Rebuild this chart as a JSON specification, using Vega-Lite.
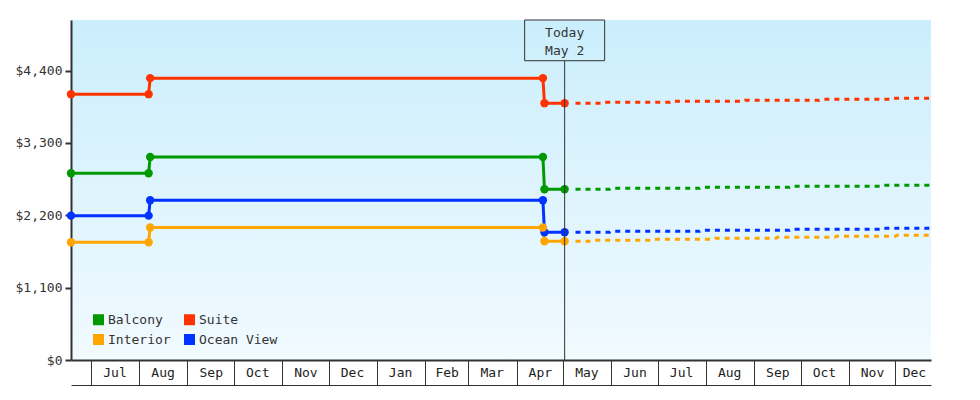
{
  "$schema": "https://vega.github.io/schema/vega-lite/v6.json",
  "width": 860,
  "height": 340,
  "autosize": {"type": "none"},
  "padding": {"left": 71, "top": 20, "right": 49, "bottom": 40},
  "background": "white",
  "config": {
    "font": "DejaVu Sans Mono",
    "scale": {"continuousPadding": 0},
    "view": {
      "stroke": null,
      "fill": {
        "gradient": "linear", "x1": 0, "y1": 0, "x2": 0, "y2": 1,
        "stops": [{"offset": 0, "color": "#cbeefc"}, {"offset": 1, "color": "#f1faff"}]
      }
    },
    "axisY": {
      "title": null, "grid": false, "domainColor": "#333", "domainWidth": 2, "tickColor": "#333", "tickWidth": 2, "tickSize": 6,
      "labelPadding": 3, "labelFont": "DejaVu Sans Mono", "labelFontSize": 13, "labelColor": "#333"
    },
    "legend": {
      "labelFont": "DejaVu Sans Mono", "labelFontSize": 13, "labelColor": "#333"
    }
  },
  "data": {
    "values": [
      {"date": "2016-06-18", "room": "Suite", "price": 4042, "kind": "past"},
      {"date": "2016-08-07", "room": "Suite", "price": 4042, "kind": "past"},
      {"date": "2016-08-08", "room": "Suite", "price": 4286, "kind": "past"},
      {"date": "2017-04-18", "room": "Suite", "price": 4286, "kind": "past"},
      {"date": "2017-04-19", "room": "Suite", "price": 3905, "kind": "past"},
      {"date": "2017-05-02", "room": "Suite", "price": 3905, "kind": "past"},
      {"date": "2016-06-18", "room": "Balcony", "price": 2840, "kind": "past"},
      {"date": "2016-08-07", "room": "Balcony", "price": 2840, "kind": "past"},
      {"date": "2016-08-08", "room": "Balcony", "price": 3088, "kind": "past"},
      {"date": "2017-04-18", "room": "Balcony", "price": 3088, "kind": "past"},
      {"date": "2017-04-19", "room": "Balcony", "price": 2597, "kind": "past"},
      {"date": "2017-05-02", "room": "Balcony", "price": 2597, "kind": "past"},
      {"date": "2016-06-18", "room": "Ocean View", "price": 2195, "kind": "past"},
      {"date": "2016-08-07", "room": "Ocean View", "price": 2195, "kind": "past"},
      {"date": "2016-08-08", "room": "Ocean View", "price": 2430, "kind": "past"},
      {"date": "2017-04-18", "room": "Ocean View", "price": 2430, "kind": "past"},
      {"date": "2017-04-19", "room": "Ocean View", "price": 1943, "kind": "past"},
      {"date": "2017-05-02", "room": "Ocean View", "price": 1943, "kind": "past"},
      {"date": "2016-06-18", "room": "Interior", "price": 1791, "kind": "past"},
      {"date": "2016-08-07", "room": "Interior", "price": 1791, "kind": "past"},
      {"date": "2016-08-08", "room": "Interior", "price": 2014, "kind": "past"},
      {"date": "2017-04-18", "room": "Interior", "price": 2014, "kind": "past"},
      {"date": "2017-04-19", "room": "Interior", "price": 1806, "kind": "past"},
      {"date": "2017-05-02", "room": "Interior", "price": 1806, "kind": "past"},

      {"date": "2017-05-09", "room": "Suite", "price": 3905, "kind": "forecast"},
      {"date": "2017-05-26", "room": "Suite", "price": 3905, "kind": "forecast"},
      {"date": "2017-05-27", "room": "Suite", "price": 3920, "kind": "forecast"},
      {"date": "2017-07-09", "room": "Suite", "price": 3920, "kind": "forecast"},
      {"date": "2017-07-10", "room": "Suite", "price": 3935, "kind": "forecast"},
      {"date": "2017-08-25", "room": "Suite", "price": 3935, "kind": "forecast"},
      {"date": "2017-08-26", "room": "Suite", "price": 3950, "kind": "forecast"},
      {"date": "2017-10-13", "room": "Suite", "price": 3950, "kind": "forecast"},
      {"date": "2017-10-14", "room": "Suite", "price": 3965, "kind": "forecast"},
      {"date": "2017-11-28", "room": "Suite", "price": 3965, "kind": "forecast"},
      {"date": "2017-11-29", "room": "Suite", "price": 3980, "kind": "forecast"},
      {"date": "2017-12-24", "room": "Suite", "price": 3980, "kind": "forecast"},
      {"date": "2017-05-09", "room": "Balcony", "price": 2597, "kind": "forecast"},
      {"date": "2017-05-31", "room": "Balcony", "price": 2597, "kind": "forecast"},
      {"date": "2017-06-01", "room": "Balcony", "price": 2612, "kind": "forecast"},
      {"date": "2017-07-28", "room": "Balcony", "price": 2612, "kind": "forecast"},
      {"date": "2017-07-29", "room": "Balcony", "price": 2627, "kind": "forecast"},
      {"date": "2017-09-24", "room": "Balcony", "price": 2627, "kind": "forecast"},
      {"date": "2017-09-25", "room": "Balcony", "price": 2643, "kind": "forecast"},
      {"date": "2017-11-21", "room": "Balcony", "price": 2643, "kind": "forecast"},
      {"date": "2017-11-22", "room": "Balcony", "price": 2658, "kind": "forecast"},
      {"date": "2017-12-24", "room": "Balcony", "price": 2658, "kind": "forecast"},
      {"date": "2017-05-09", "room": "Ocean View", "price": 1943, "kind": "forecast"},
      {"date": "2017-05-31", "room": "Ocean View", "price": 1943, "kind": "forecast"},
      {"date": "2017-06-01", "room": "Ocean View", "price": 1958, "kind": "forecast"},
      {"date": "2017-07-28", "room": "Ocean View", "price": 1958, "kind": "forecast"},
      {"date": "2017-07-29", "room": "Ocean View", "price": 1973, "kind": "forecast"},
      {"date": "2017-09-24", "room": "Ocean View", "price": 1973, "kind": "forecast"},
      {"date": "2017-09-25", "room": "Ocean View", "price": 1988, "kind": "forecast"},
      {"date": "2017-11-21", "room": "Ocean View", "price": 1988, "kind": "forecast"},
      {"date": "2017-11-22", "room": "Ocean View", "price": 2004, "kind": "forecast"},
      {"date": "2017-12-24", "room": "Ocean View", "price": 2004, "kind": "forecast"},
      {"date": "2017-05-09", "room": "Interior", "price": 1806, "kind": "forecast"},
      {"date": "2017-05-20", "room": "Interior", "price": 1806, "kind": "forecast"},
      {"date": "2017-05-21", "room": "Interior", "price": 1821, "kind": "forecast"},
      {"date": "2017-06-28", "room": "Interior", "price": 1821, "kind": "forecast"},
      {"date": "2017-06-29", "room": "Interior", "price": 1836, "kind": "forecast"},
      {"date": "2017-08-06", "room": "Interior", "price": 1836, "kind": "forecast"},
      {"date": "2017-08-07", "room": "Interior", "price": 1851, "kind": "forecast"},
      {"date": "2017-09-15", "room": "Interior", "price": 1851, "kind": "forecast"},
      {"date": "2017-09-16", "room": "Interior", "price": 1867, "kind": "forecast"},
      {"date": "2017-10-23", "room": "Interior", "price": 1867, "kind": "forecast"},
      {"date": "2017-10-24", "room": "Interior", "price": 1882, "kind": "forecast"},
      {"date": "2017-12-01", "room": "Interior", "price": 1882, "kind": "forecast"},
      {"date": "2017-12-02", "room": "Interior", "price": 1897, "kind": "forecast"},
      {"date": "2017-12-24", "room": "Interior", "price": 1897, "kind": "forecast"}
    ]
  },
  "layer": [
    {
      "transform": [{"filter": "datum.kind === 'forecast'"}],
      "mark": {"type": "line", "strokeWidth": 3, "strokeDash": [5, 5], "strokeCap": "butt"},
      "encoding": {
        "x": {
          "field": "date", "type": "temporal",
          "scale": {"type": "utc", "padding": 0, "domain": [{"year": 2016, "month": 6, "date": 18, "utc": true}, {"year": 2017, "month": 12, "date": 24, "utc": true}]},
          "axis": {
            "orient": "bottom", "title": null, "grid": false, "domain": false, "ticks": false, "tickSize": 0,
            "labelExpr": "utcFormat(datum.value, '%b')", "labelFlush": false, "labelOverlap": false, "labelPadding": 6,
            "labelFont": "DejaVu Sans Mono", "labelFontSize": 13, "labelColor": "#222",
            "values": [
              {"year": 2016, "month": 7, "date": 16, "utc": true},
              {"year": 2016, "month": 8, "date": 16, "utc": true},
              {"year": 2016, "month": 9, "date": 16, "utc": true},
              {"year": 2016, "month": 10, "date": 16, "utc": true},
              {"year": 2016, "month": 11, "date": 16, "utc": true},
              {"year": 2016, "month": 12, "date": 16, "utc": true},
              {"year": 2017, "month": 1, "date": 16, "utc": true},
              {"year": 2017, "month": 2, "date": 15, "utc": true},
              {"year": 2017, "month": 3, "date": 16, "utc": true},
              {"year": 2017, "month": 4, "date": 16, "utc": true},
              {"year": 2017, "month": 5, "date": 16, "utc": true},
              {"year": 2017, "month": 6, "date": 16, "utc": true},
              {"year": 2017, "month": 7, "date": 16, "utc": true},
              {"year": 2017, "month": 8, "date": 16, "utc": true},
              {"year": 2017, "month": 9, "date": 16, "utc": true},
              {"year": 2017, "month": 10, "date": 16, "utc": true},
              {"year": 2017, "month": 11, "date": 16, "utc": true},
              {"year": 2017, "month": 12, "date": 13, "utc": true}
            ]
          }
        },
        "y": {
          "field": "price", "type": "quantitative",
          "scale": {"domain": [0, 5170], "nice": false},
          "axis": {"values": [0, 1100, 2200, 3300, 4400], "format": "$,.0f"}
        },
        "color": {"field": "room", "type": "nominal",
          "scale": {"domain": ["Balcony", "Suite", "Interior", "Ocean View"], "range": ["#009900", "#ff3300", "#ffa500", "#0033ff"]},
          "legend": {
            "title": null, "orient": "none", "legendX": 21, "legendY": 293, "columns": 2, "direction": "horizontal",
            "symbolType": "square", "symbolSize": 121, "symbolStrokeWidth": 0, "symbolDash": [], "symbolFillColor": null,
            "labelOffset": 3, "columnPadding": 12, "rowPadding": 6, "padding": 0
          }
        }
      }
    },
    {
      "transform": [{"filter": "datum.kind === 'past'"}],
      "mark": {"type": "line", "strokeWidth": 3},
      "encoding": {
        "x": {
          "field": "date", "type": "temporal",
          "axis": {
            "orient": "bottom", "title": null, "grid": false, "labels": false,
            "domain": true, "domainColor": "#333", "domainWidth": 2,
            "ticks": true, "tickSize": 25, "tickColor": "#333", "tickWidth": 1,
            "values": [
              {"year": 2016, "month": 7, "date": 1, "utc": true},
              {"year": 2016, "month": 8, "date": 1, "utc": true},
              {"year": 2016, "month": 9, "date": 1, "utc": true},
              {"year": 2016, "month": 10, "date": 1, "utc": true},
              {"year": 2016, "month": 11, "date": 1, "utc": true},
              {"year": 2016, "month": 12, "date": 1, "utc": true},
              {"year": 2017, "month": 1, "date": 1, "utc": true},
              {"year": 2017, "month": 2, "date": 1, "utc": true},
              {"year": 2017, "month": 3, "date": 1, "utc": true},
              {"year": 2017, "month": 4, "date": 1, "utc": true},
              {"year": 2017, "month": 5, "date": 1, "utc": true},
              {"year": 2017, "month": 6, "date": 1, "utc": true},
              {"year": 2017, "month": 7, "date": 1, "utc": true},
              {"year": 2017, "month": 8, "date": 1, "utc": true},
              {"year": 2017, "month": 9, "date": 1, "utc": true},
              {"year": 2017, "month": 10, "date": 1, "utc": true},
              {"year": 2017, "month": 11, "date": 1, "utc": true},
              {"year": 2017, "month": 12, "date": 1, "utc": true}
            ]
          }
        },
        "y": {"field": "price", "type": "quantitative", "axis": {"values": [0, 1100, 2200, 3300, 4400], "format": "$,.0f"}},
        "stroke": {"field": "room", "type": "nominal", "legend": null,
          "scale": {"domain": ["Balcony", "Suite", "Interior", "Ocean View"], "range": ["#009900", "#ff3300", "#ffa500", "#0033ff"]}}
      }
    },
    {
      "transform": [{"filter": "datum.kind === 'past'"}],
      "mark": {"type": "circle", "size": 70, "opacity": 1},
      "encoding": {
        "x": {"field": "date", "type": "temporal", "axis": null},
        "y": {"field": "price", "type": "quantitative", "axis": {"values": [0, 1100, 2200, 3300, 4400], "format": "$,.0f"}},
        "fill": {"field": "room", "type": "nominal", "legend": null,
          "scale": {"domain": ["Balcony", "Suite", "Interior", "Ocean View"], "range": ["#009900", "#ff3300", "#ffa500", "#0033ff"]}}
      }
    },
    {
      "data": {"values": [{}]},
      "mark": {"type": "rule", "color": "#333", "strokeWidth": 1},
      "encoding": {
        "x": {
          "datum": {"year": 2017, "month": 5, "date": 2, "utc": true}, "type": "temporal",
          "axis": {"orient": "bottom", "offset": 25, "title": null, "grid": false, "labels": false, "ticks": false,
            "domain": true, "domainColor": "#333", "domainWidth": 1, "values": []}
        },
        "y": {"datum": 4551, "type": "quantitative", "axis": {"values": [0, 1100, 2200, 3300, 4400], "format": "$,.0f"}},
        "y2": {"datum": 0}
      }
    },
    {
      "data": {"values": [{}]},
      "mark": {"type": "bar", "width": 80, "fill": "transparent", "stroke": "#333", "strokeWidth": 1},
      "encoding": {
        "x": {"datum": {"year": 2017, "month": 5, "date": 2, "utc": true}, "type": "temporal", "axis": null},
        "y": {"datum": 5170, "type": "quantitative", "axis": {"values": [0, 1100, 2200, 3300, 4400], "format": "$,.0f"}},
        "y2": {"datum": 4551}
      }
    },
    {
      "data": {"values": [{}]},
      "mark": {"type": "text", "text": ["Today", "May 2"], "align": "center", "baseline": "top",
        "lineHeight": 18, "font": "DejaVu Sans Mono", "fontSize": 13, "color": "#333"},
      "encoding": {
        "x": {"datum": {"year": 2017, "month": 5, "date": 2, "utc": true}, "type": "temporal", "axis": null},
        "y": {"datum": 5064, "type": "quantitative", "axis": {"values": [0, 1100, 2200, 3300, 4400], "format": "$,.0f"}}
      }
    }
  ],
  "resolve": {"axis": {"x": "independent"}}
}
